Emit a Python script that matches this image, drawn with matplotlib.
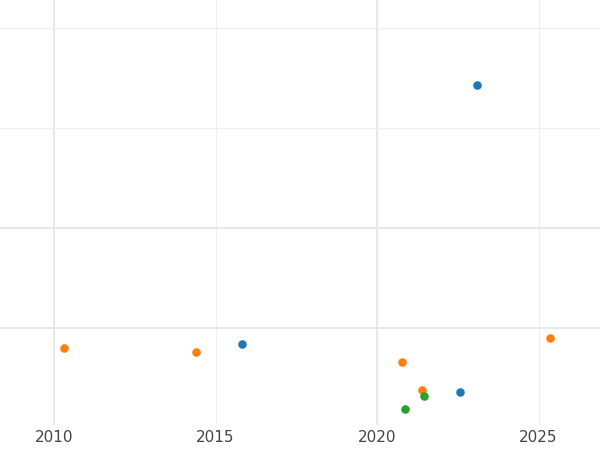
import matplotlib
matplotlib.use("Agg")
import matplotlib.pyplot as plt

blue_x = [2023.10, 2015.82, 2022.57]
blue_y = [3.43, 0.84, 0.36]
orange_x = [2010.31, 2014.40, 2020.77, 2021.39, 2025.36]
orange_y = [0.80, 0.76, 0.66, 0.38, 0.90]
green_x = [2020.87, 2021.46]
green_y = [0.19, 0.32]
xticks = [2010, 2015, 2020, 2025]

fig = plt.figure(figsize=(6, 4.5), dpi=100)
ax = fig.add_axes([0, 25/450, 1, 425/450])
for xs, ys, c in [(blue_x, blue_y, "#1f77b4"), (orange_x, orange_y, "#ff7f0e"), (green_x, green_y, "#2ca02c")]:
    ax.scatter(xs, ys, s=38, color=c, zorder=3, linewidths=0)
ax.set_xlim(2008.33, 2026.90)
ax.set_ylim(0.03, 4.28)
ax.set_xticks(xticks)
ax.set_yticks([2, 1])
ax.set_yticks([4, 3], minor=True)
ax.set_yticklabels([])
for s in ax.spines.values():
    s.set_visible(False)
ax.grid(True, which="major", axis="y", color="#e6e6e6", linewidth=1.3)
ax.grid(True, which="minor", axis="y", color="#efefef", linewidth=0.8)
for x in xticks:
    major = x % 10 == 0
    ax.axvline(x, color="#e6e6e6" if major else "#efefef", linewidth=1.3 if major else 0.8, zorder=0)
ax.tick_params(which="both", length=0, labelsize=11, labelcolor="#444444")
ax.set_axisbelow(True)
fig.savefig("out.png")
